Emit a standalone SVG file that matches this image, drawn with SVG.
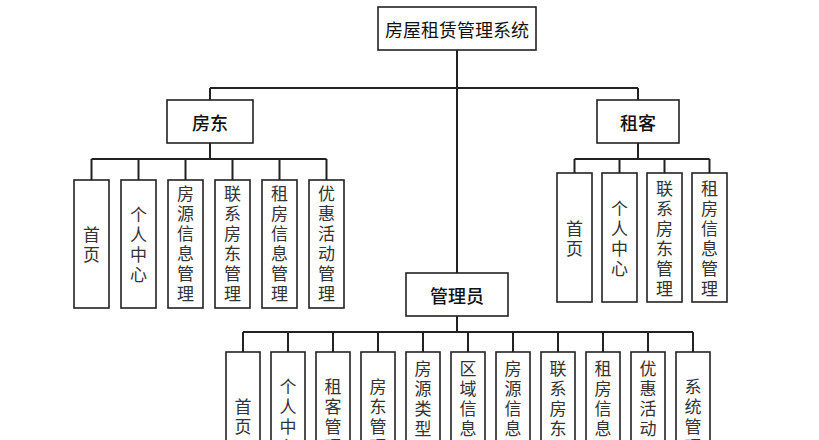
<svg xmlns="http://www.w3.org/2000/svg" width="819" height="440" viewBox="0 0 819 440">
<style>
rect{fill:#fff;stroke:#222;stroke-width:1.6}
.c{stroke:#222;stroke-width:2;fill:none}
text{font-family:"Noto Sans CJK SC","Noto Sans",sans-serif;font-size:17px;fill:#333;text-anchor:middle;dominant-baseline:central}
.h{font-size:18px;fill:#111;font-weight:500}
</style>
<rect width="819" height="440" style="fill:#fff;stroke:none"/>
<g id="connectors">
<path class="c" d="M457 50V273M210 88H638M210 88V100M638 88V100"/>
<path class="c" d="M210 143V159M91.5 159H326.5M91.5 159V180M138.5 159V180M185.5 159V180M232.5 159V180M279.5 159V180M326.5 159V180"/>
<path class="c" d="M638 143V159M574.5 159H709.5M574.5 159V173M619.5 159V173M664.5 159V173M709.5 159V173"/>
<path class="c" d="M457 316V332M243 332H693M243 332V352M288 332V352M333 332V352M378 332V352M423 332V352M468 332V352M513 332V352M558 332V352M603 332V352M648 332V352M693 332V352"/>
</g>
<g id="root"><rect x="378" y="7" width="158" height="43"/><text x="457" y="29" class="h" style="font-weight:400">房屋租赁管理系统</text></g>
<g id="fangdong"><rect x="167" y="100" width="86" height="43"/><text x="210" y="122" class="h">房东</text></g>
<g id="zuke"><rect x="597" y="100" width="82" height="43"/><text x="638" y="122" class="h">租客</text></g>
<g id="admin"><rect x="406" y="273" width="102" height="43"/><text x="457" y="295" class="h">管理员</text></g>

<g id="fd1"><rect x="74" y="180" width="35" height="128"/><text x="91.5" y="233">首<tspan x="91.5" dy="20">页</tspan></text></g>
<g id="fd2"><rect x="121" y="180" width="35" height="128"/><text x="138.5" y="213">个<tspan x="138.5" dy="20">人</tspan><tspan x="138.5" dy="20">中</tspan><tspan x="138.5" dy="20">心</tspan></text></g>
<g id="fd3"><rect x="168" y="180" width="35" height="128"/><text x="185.5" y="192">房<tspan x="185.5" dy="20">源</tspan><tspan x="185.5" dy="20">信</tspan><tspan x="185.5" dy="20">息</tspan><tspan x="185.5" dy="20">管</tspan><tspan x="185.5" dy="20">理</tspan></text></g>
<g id="fd4"><rect x="215" y="180" width="35" height="128"/><text x="232.5" y="192">联<tspan x="232.5" dy="20">系</tspan><tspan x="232.5" dy="20">房</tspan><tspan x="232.5" dy="20">东</tspan><tspan x="232.5" dy="20">管</tspan><tspan x="232.5" dy="20">理</tspan></text></g>
<g id="fd5"><rect x="262" y="180" width="35" height="128"/><text x="279.5" y="192">租<tspan x="279.5" dy="20">房</tspan><tspan x="279.5" dy="20">信</tspan><tspan x="279.5" dy="20">息</tspan><tspan x="279.5" dy="20">管</tspan><tspan x="279.5" dy="20">理</tspan></text></g>
<g id="fd6"><rect x="309" y="180" width="35" height="128"/><text x="326.5" y="192">优<tspan x="326.5" dy="20">惠</tspan><tspan x="326.5" dy="20">活</tspan><tspan x="326.5" dy="20">动</tspan><tspan x="326.5" dy="20">管</tspan><tspan x="326.5" dy="20">理</tspan></text></g>

<g id="zk1"><rect x="557" y="173" width="35" height="129"/><text x="574.5" y="227">首<tspan x="574.5" dy="20">页</tspan></text></g>
<g id="zk2"><rect x="602" y="173" width="35" height="129"/><text x="619.5" y="207">个<tspan x="619.5" dy="20">人</tspan><tspan x="619.5" dy="20">中</tspan><tspan x="619.5" dy="20">心</tspan></text></g>
<g id="zk3"><rect x="647" y="173" width="35" height="129"/><text x="664.5" y="187">联<tspan x="664.5" dy="20">系</tspan><tspan x="664.5" dy="20">房</tspan><tspan x="664.5" dy="20">东</tspan><tspan x="664.5" dy="20">管</tspan><tspan x="664.5" dy="20">理</tspan></text></g>
<g id="zk4"><rect x="692" y="173" width="35" height="129"/><text x="709.5" y="187">租<tspan x="709.5" dy="20">房</tspan><tspan x="709.5" dy="20">信</tspan><tspan x="709.5" dy="20">息</tspan><tspan x="709.5" dy="20">管</tspan><tspan x="709.5" dy="20">理</tspan></text></g>

<g id="ad1"><rect x="226" y="352" width="34" height="110"/><text x="243" y="405">首<tspan x="243" dy="20">页</tspan></text></g>
<g id="ad2"><rect x="271" y="352" width="34" height="110"/><text x="288" y="385">个<tspan x="288" dy="20">人</tspan><tspan x="288" dy="20">中</tspan><tspan x="288" dy="20">心</tspan></text></g>
<g id="ad3"><rect x="316" y="352" width="34" height="110"/><text x="333" y="385">租<tspan x="333" dy="20">客</tspan><tspan x="333" dy="20">管</tspan><tspan x="333" dy="20">理</tspan></text></g>
<g id="ad4"><rect x="361" y="352" width="34" height="110"/><text x="378" y="385">房<tspan x="378" dy="20">东</tspan><tspan x="378" dy="20">管</tspan><tspan x="378" dy="20">理</tspan></text></g>
<g id="ad5"><rect x="406" y="352" width="34" height="110"/><text x="423" y="367">房<tspan x="423" dy="20">源</tspan><tspan x="423" dy="20">类</tspan><tspan x="423" dy="20">型</tspan><tspan x="423" dy="20">管</tspan><tspan x="423" dy="20">理</tspan></text></g>
<g id="ad6"><rect x="451" y="352" width="34" height="110"/><text x="468" y="367">区<tspan x="468" dy="20">域</tspan><tspan x="468" dy="20">信</tspan><tspan x="468" dy="20">息</tspan><tspan x="468" dy="20">管</tspan><tspan x="468" dy="20">理</tspan></text></g>
<g id="ad7"><rect x="496" y="352" width="34" height="110"/><text x="513" y="367">房<tspan x="513" dy="20">源</tspan><tspan x="513" dy="20">信</tspan><tspan x="513" dy="20">息</tspan><tspan x="513" dy="20">管</tspan><tspan x="513" dy="20">理</tspan></text></g>
<g id="ad8"><rect x="541" y="352" width="34" height="110"/><text x="558" y="367">联<tspan x="558" dy="20">系</tspan><tspan x="558" dy="20">房</tspan><tspan x="558" dy="20">东</tspan><tspan x="558" dy="20">管</tspan><tspan x="558" dy="20">理</tspan></text></g>
<g id="ad9"><rect x="586" y="352" width="34" height="110"/><text x="603" y="367">租<tspan x="603" dy="20">房</tspan><tspan x="603" dy="20">信</tspan><tspan x="603" dy="20">息</tspan><tspan x="603" dy="20">管</tspan><tspan x="603" dy="20">理</tspan></text></g>
<g id="ad10"><rect x="631" y="352" width="34" height="110"/><text x="648" y="367">优<tspan x="648" dy="20">惠</tspan><tspan x="648" dy="20">活</tspan><tspan x="648" dy="20">动</tspan><tspan x="648" dy="20">管</tspan><tspan x="648" dy="20">理</tspan></text></g>
<g id="ad11"><rect x="676" y="352" width="34" height="110"/><text x="693" y="385">系<tspan x="693" dy="20">统</tspan><tspan x="693" dy="20">管</tspan><tspan x="693" dy="20">理</tspan></text></g>
</svg>
